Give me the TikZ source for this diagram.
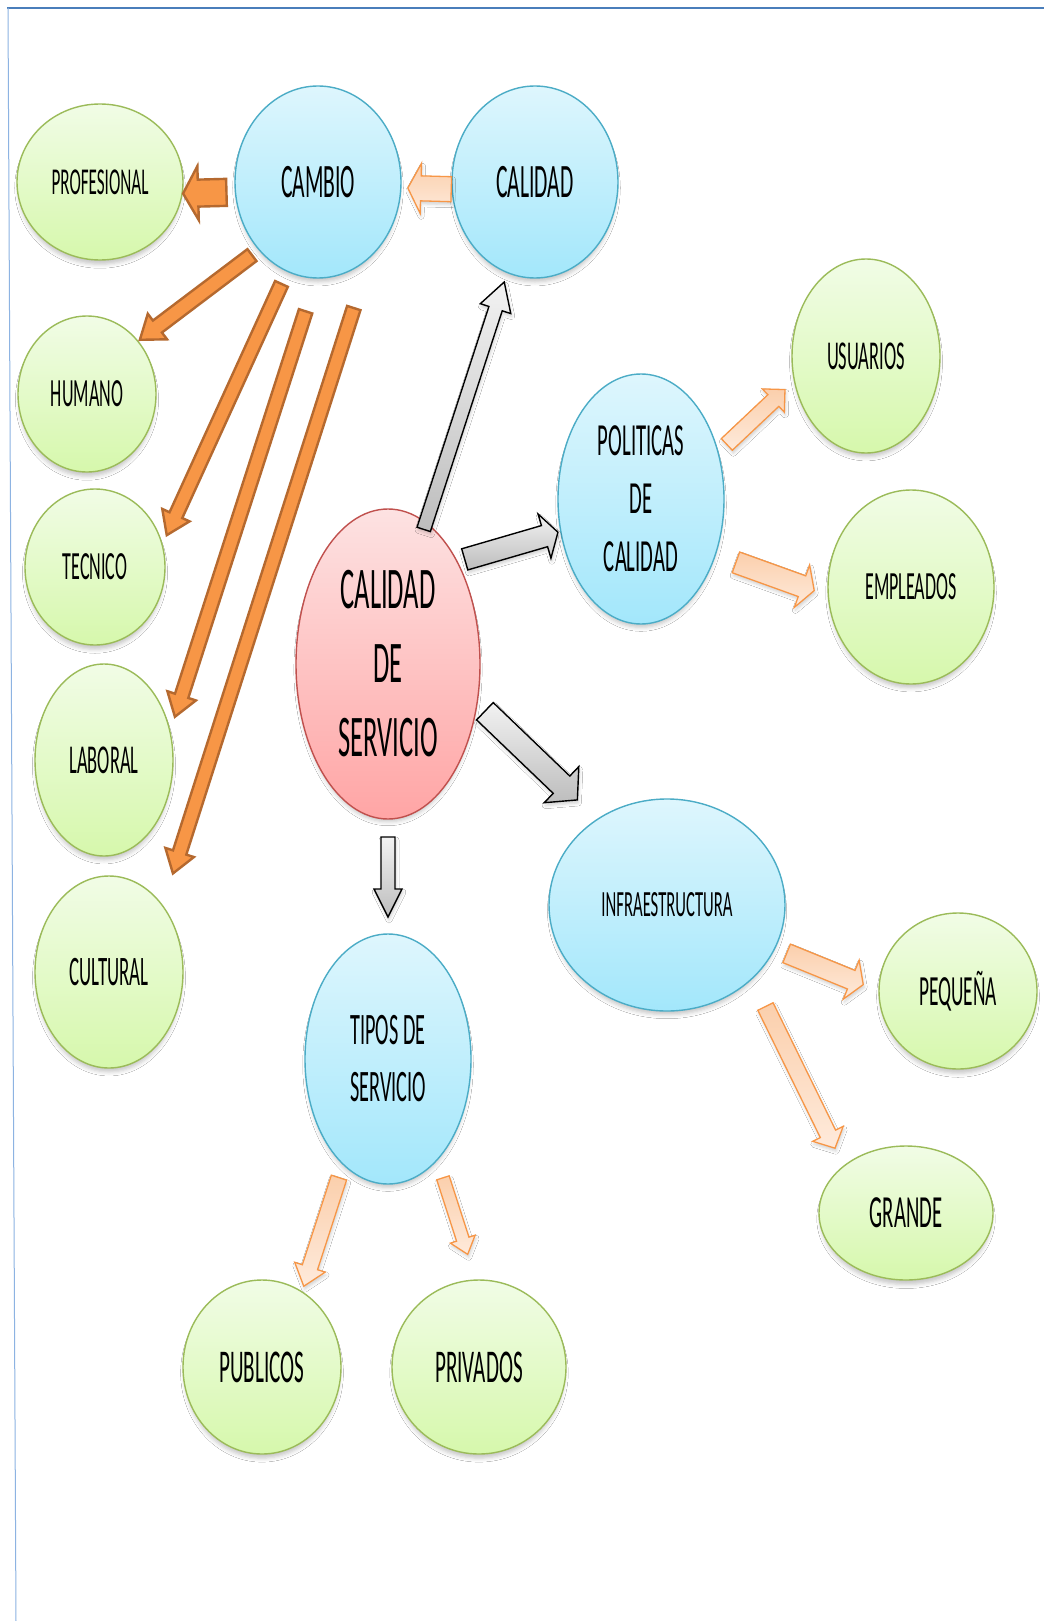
\documentclass[tikz,border=0pt]{standalone}
\usepackage{fontspec}
\newfontfamily\bubblefont[FakeStretch=0.45]{Carlito}
\usetikzlibrary{shapes.geometric,calc,shadows.blur}

\definecolor{frameblue}{HTML}{4A7EBB}
\definecolor{framelight}{HTML}{8DB3E2}
\definecolor{leafline}{HTML}{9BBB59}
\definecolor{leaftop}{HTML}{F1FCE6}
\definecolor{leafbot}{HTML}{D6F8AC}
\definecolor{topicline}{HTML}{4BACC6}
\definecolor{topictop}{HTML}{DEF6FD}
\definecolor{topicbot}{HTML}{A3E7FB}
\definecolor{coreline}{HTML}{C0504D}
\definecolor{coretop}{HTML}{FDE2E2}
\definecolor{corebot}{HTML}{FFA5A5}
\definecolor{orangefill}{HTML}{F79646}
\definecolor{orangeline}{HTML}{B5692F}
\definecolor{peachtop}{HTML}{FBCFAC}
\definecolor{peachbot}{HTML}{FEEADB}
\definecolor{graytop}{HTML}{F2F2F2}
\definecolor{graybot}{HTML}{BDBDBD}

\tikzset{
  radii/.style 2 args={minimum width=2*#1, minimum height=2*#2},
  fs/.style 2 args={font=\bubblefont\fontsize{#1}{#2}\selectfont},
  bubble/.style={ellipse, draw, line width=1.4pt, inner sep=0pt, outer sep=0pt,
    align=center, text=black,
    blur shadow={shadow xshift=0pt, shadow yshift=-6pt, shadow scale=0.98,
      shadow blur radius=4pt, shadow opacity=22}},
  leafnode/.style={bubble, draw=leafline, top color=leaftop, bottom color=leafbot},
  topicnode/.style={bubble, draw=topicline, top color=topictop, bottom color=topicbot},
  corenode/.style={bubble, draw=coreline, top color=coretop, bottom color=corebot},
  arrowshadow/.style={blur shadow={shadow xshift=1pt, shadow yshift=-3pt, shadow blur radius=3pt, shadow opacity=18}},
  orangearrow/.style={draw=orangeline, fill=orangefill, line width=2.4pt, line join=miter},
  peacharrow/.style={draw=orangefill, top color=peachtop, bottom color=peachbot, line width=1.3pt, line join=miter, arrowshadow},
  grayarrow/.style={draw=black, top color=graytop, bottom color=graybot, line width=1.4pt, line join=miter, arrowshadow},
}

% block arrow: [style]{source anchor}{gap}{target anchor}{gap}{half shaft}{half head}{head length}
\newcommand{\blockarrow}[8][]{%
  \path ($(#4)!#5!(#2)$) coordinate (ba-t);
  \path ($(#2)!#3!(ba-t)$) coordinate (ba-s);
  \path ($(ba-t)!#8!(ba-s)$) coordinate (ba-h);
  \draw[#1] ($(ba-s)!#6!90:(ba-t)$) -- ($(ba-h)!#6!90:(ba-t)$)
    -- ($(ba-h)!#7!90:(ba-t)$) -- (ba-t)
    -- ($(ba-h)!#7!-90:(ba-t)$) -- ($(ba-h)!#6!-90:(ba-t)$)
    -- ($(ba-s)!#6!-90:(ba-t)$) -- cycle;
}

\begin{document}
\begin{tikzpicture}[x=1pt,y=-1pt]
  \useasboundingbox (0,0) rectangle (1044,1621);
  \fill[white] (0,0) rectangle (1044,1621);

  % page frame
  \draw[frameblue, line width=2.2pt] (7,8) -- (1044,8);
  \draw[framelight, line width=1pt] (8,8) -- (16,1621);

  % bubbles
  \node[leafnode, radii={83}{78}, fs={38}{46}] (prof) at (100,182) {PROFESIONAL};
  \node[topicnode, radii={83}{96}, fs={48}{58}] (cambio) at (318,182) {CAMBIO};
  \node[topicnode, radii={83}{96}, fs={48}{58}] (calidad) at (535,182) {CALIDAD};
  \node[leafnode, radii={69}{78}, fs={40}{48}] (humano) at (87,394) {HUMANO};
  \node[leafnode, radii={70}{78}, fs={40}{48}] (tecnico) at (95,567) {TECNICO};
  \node[leafnode, radii={69}{96}, fs={41}{48}] (laboral) at (104,760) {LABORAL};
  \node[leafnode, radii={74}{96}, fs={42}{48}] (cultural) at (109,972) {CULTURAL};
  \node[corenode, radii={92}{155}, fs={59}{74}] (cds) at (388,664) {CALIDAD\\DE\\SERVICIO};
  \node[topicnode, radii={83}{125}, fs={46}{58}] (politicas) at (641,499) {POLITICAS\\DE\\CALIDAD};
  \node[leafnode, radii={74}{97}, fs={41}{48}] (usuarios) at (866,356) {USUARIOS};
  \node[leafnode, radii={83}{97}, fs={40}{48}] (empleados) at (911,587) {EMPLEADOS};
  \node[topicnode, radii={118}{106}, fs={37}{44}] (infra) at (667,905) {INFRAESTRUCTURA};
  \node[leafnode, radii={79}{78}, fs={43}{50}] (pequena) at (958,991) {PEQUEÑA};
  \node[leafnode, radii={87}{67}, fs={46}{54}] (grande) at (906,1213) {GRANDE};
  \node[topicnode, radii={83}{125}, fs={45}{57}] (tipos) at (388,1059) {TIPOS DE\\SERVICIO};
  \node[leafnode, radii={79}{87}, fs={47}{54}] (publicos) at (262,1367) {PUBLICOS};
  \node[leafnode, radii={87}{87}, fs={47}{54}] (privados) at (479,1367) {PRIVADOS};

  % connectors
  \blockarrow[peacharrow]{calidad.185}{1pt}{cambio.356}{7pt}{12.5pt}{25pt}{13pt}
  \blockarrow[orangearrow]{cambio.187}{9pt}{prof.352}{1pt}{13.5pt}{27pt}{15pt}
  \blockarrow[orangearrow]{cambio.229}{9pt}{humano.46}{2.5pt}{7.5pt}{16pt}{22pt}
  \blockarrow[orangearrow]{cambio.251}{14pt}{tecnico.18}{11pt}{7pt}{15pt}{22pt}
  \blockarrow[orangearrow]{cambio.269}{35pt}{laboral.23}{16pt}{7pt}{15pt}{22pt}
  \blockarrow[orangearrow]{cambio.305}{54pt}{cultural.51}{34pt}{7pt}{15pt}{22pt}

  \blockarrow[grayarrow]{cds.75}{-7pt}{calidad.253}{10pt}{7pt}{16pt}{28pt}
  \blockarrow[grayarrow]{cds.56}{8pt}{politicas.202}{3pt}{11pt}{23pt}{14pt}
  \blockarrow[grayarrow]{cds.336}{11pt}{infra.129}{28pt}{12pt}{25pt}{22pt}
  \blockarrow[grayarrow]{cds.270}{18pt}{tipos.90}{17pt}{7pt}{14pt}{28pt}

  \blockarrow[peacharrow]{politicas.31}{12pt}{usuarios.199}{13pt}{8pt}{16pt}{16pt}
  \blockarrow[peacharrow]{politicas.323}{22pt}{empleados.186}{15pt}{11pt}{22.5pt}{13pt}
  \blockarrow[peacharrow]{infra.338}{13pt}{pequena.180}{17pt}{10pt}{21pt}{13pt}
  \blockarrow[peacharrow]{infra.319}{31pt}{grande.143}{20pt}{8.5pt}{17pt}{16pt}
  \blockarrow[peacharrow]{tipos.247}{14pt}{publicos.62}{6pt}{8pt}{16pt}{20pt}
  \blockarrow[peacharrow]{tipos.296}{19pt}{privados.92}{27pt}{6.5pt}{13pt}{16pt}
\end{tikzpicture}
\end{document}
